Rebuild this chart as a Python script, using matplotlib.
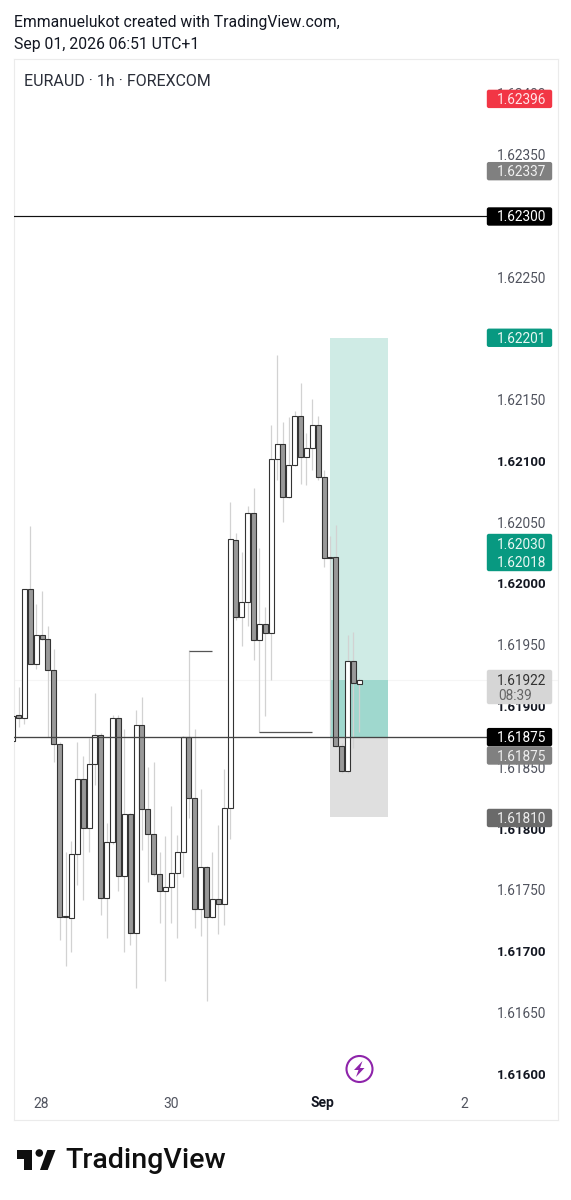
import matplotlib
matplotlib.use("Agg")
import matplotlib.pyplot as plt
import matplotlib.transforms as mtrans
from matplotlib.patches import Circle, FancyBboxPatch, Polygon, Rectangle

plt.rcParams['font.family'] = ['Roboto', 'DejaVu Sans']

# hourly candles
opens = [1.61872, 1.61893, 1.61891, 1.61996, 1.61935, 1.61958, 1.61955, 1.61930, 1.61869, 1.61728,
         1.61727, 1.61780, 1.61841, 1.61801, 1.61853, 1.61877, 1.61744, 1.61789, 1.61891, 1.61762,
         1.61812, 1.61715, 1.61885, 1.61816, 1.61796, 1.61763, 1.61749, 1.61753, 1.61764, 1.61781,
         1.61875, 1.61825, 1.61735, 1.61769, 1.61728, 1.61743, 1.61739, 1.61817, 1.62036, 1.61973,
         1.61985, 1.62058, 1.61954, 1.61967, 1.61960, 1.62102, 1.62114, 1.62071, 1.62097, 1.62137,
         1.62104, 1.62111, 1.62130, 1.62087, 1.62022, 1.62022, 1.61868, 1.61847, 1.61937, 1.61918]
highs = [1.61892, 1.61916, 1.61996, 1.62047, 1.61984, 1.61994, 1.61966, 1.61947, 1.61871, 1.61781,
         1.61790, 1.61871, 1.61860, 1.61874, 1.61911, 1.61878, 1.61805, 1.61893, 1.61893, 1.61882,
         1.61813, 1.61897, 1.61908, 1.61851, 1.61855, 1.61781, 1.61794, 1.61819, 1.61795, 1.61876,
         1.61946, 1.61882, 1.61833, 1.61770, 1.61781, 1.61803, 1.61849, 1.62067, 1.62042, 1.62026,
         1.62064, 1.62078, 1.62029, 1.61981, 1.62130, 1.62187, 1.62132, 1.62136, 1.62141, 1.62164,
         1.62123, 1.62151, 1.62137, 1.62093, 1.62039, 1.62048, 1.61870, 1.61958, 1.61961, 1.61923]
lows = [1.61872, 1.61883, 1.61886, 1.61935, 1.61931, 1.61954, 1.61875, 1.61855, 1.61709, 1.61688,
        1.61700, 1.61754, 1.61742, 1.61781, 1.61836, 1.61730, 1.61711, 1.61788, 1.61749, 1.61700,
        1.61705, 1.61670, 1.61783, 1.61757, 1.61762, 1.61723, 1.61676, 1.61723, 1.61711, 1.61761,
        1.61809, 1.61719, 1.61713, 1.61660, 1.61727, 1.61714, 1.61722, 1.61792, 1.61971, 1.61949,
        1.61966, 1.61938, 1.61879, 1.61892, 1.61922, 1.62085, 1.62051, 1.62070, 1.62096, 1.62082,
        1.62081, 1.62093, 1.62085, 1.62014, 1.61877, 1.61867, 1.61846, 1.61846, 1.61866, 1.61879]
closes = [1.61892, 1.61891, 1.61996, 1.61935, 1.61958, 1.61955, 1.61930, 1.61869, 1.61728, 1.61729,
          1.61780, 1.61841, 1.61801, 1.61853, 1.61877, 1.61744, 1.61789, 1.61891, 1.61762, 1.61812,
          1.61715, 1.61885, 1.61816, 1.61796, 1.61763, 1.61749, 1.61753, 1.61764, 1.61781, 1.61875,
          1.61825, 1.61735, 1.61769, 1.61728, 1.61743, 1.61739, 1.61817, 1.62037, 1.61973, 1.61985,
          1.62058, 1.61954, 1.61967, 1.61960, 1.62102, 1.62114, 1.62071, 1.62097, 1.62137, 1.62104,
          1.62111, 1.62130, 1.62087, 1.62021, 1.62021, 1.61868, 1.61847, 1.61937, 1.61919, 1.61922]

# price scale
tick_prices = [1.62400, 1.62350, 1.62300, 1.62250, 1.62200, 1.62150, 1.62100, 1.62050, 1.62000,
               1.61950, 1.61900, 1.61850, 1.61800, 1.61750, 1.61700, 1.61650, 1.61600]
bold_ticks = [1.62100, 1.62000, 1.61900, 1.61800, 1.61700, 1.61600]

# time scale
time_pos = [4.8, 27, 52.8, 76.9]
time_labels = ['28', '30', 'Sep', '2']

# position tool: target, entry, stop, live price
tp_price = 1.62201
entry_price = 1.61875
stop_price = 1.61810
last_price = 1.61922
hline_prices = [1.62300, 1.61875]

# small pivot levels
pivot_prices = [1.61945, 1.61879]
pivot_start = [30, 42]
pivot_end = [34, 51]

# price tags: centre price, text, colour
tag_prices = [1.62396, 1.62337, 1.62300, 1.62201, 1.61875, 1.61860, 1.61809]
tag_texts = ['1.62396', '1.62337', '1.62300', '1.62201', '1.61875', '1.61875', '1.61810']
tag_colors = ['#F23645', '#808080', '#000000', '#089981', '#000000', '#808080', '#6A6A6A']
tag_text_colors = ['#FFE3E6', '#F0F0F0', '#FFFFFF', '#E8F7F3', '#FFFFFF', '#EDEDED', '#EDEDED']

W, H = 571, 1200
L, R, T, B = 13.5, 558, 59, 1120

fig = plt.figure(figsize=(W / 100, H / 100), dpi=100, facecolor='white')
ax = fig.add_axes([L / W, 1 - B / H, (R - L) / W, (B - T) / H])
ax.set_xlim((L - 12.7) / 5.875, (R - 12.7) / 5.875)
ax.set_ylim(1.6156245, 1.6242857)
ax.set_xticks([])
ax.set_yticks([])
for s in ax.spines.values():
    s.set_color('#EBEBEB')
    s.set_linewidth(0.8)

ov = fig.add_axes([0, 0, 1, 1], facecolor='none')
ov.set_xlim(0, W)
ov.set_ylim(H, 0)
ov.axis('off')


def ypx(price):
    return H - ax.transData.transform((0, price))[1]


# position boxes
box_x, box_w = 54, 9.9
ax.add_patch(Rectangle((box_x, entry_price), box_w, tp_price - entry_price, fc='#CFEBE5', ec='none', zorder=1))
ax.add_patch(Rectangle((box_x, entry_price), box_w, last_price - entry_price, fc='#9FD8CE', ec='none', zorder=1.1))
ax.add_patch(Rectangle((box_x, stop_price), box_w, entry_price - stop_price, fc='#DFDFDF', ec='none', zorder=1))

ax.axhline(last_price, color='#F5F5F5', lw=0.8, zorder=0.5)

# candles
xs = list(range(len(opens)))
ax.vlines(xs, lows, highs, color='#D2D2D2', lw=0.9, zorder=2)
for i in xs:
    up = closes[i] >= opens[i]
    ax.bar(i, abs(closes[i] - opens[i]), bottom=min(opens[i], closes[i]), width=0.84,
           facecolor='white' if up else '#999999', edgecolor='#333333', linewidth=0.8, zorder=3)

for p, a, b in zip(pivot_prices, pivot_start, pivot_end):
    ax.hlines(p, a, b, color='#555555', lw=0.9, zorder=3)

ax_x_end = (487 - L) / (R - L)
xform = mtrans.blended_transform_factory(ax.transAxes, ax.transData)
ax.plot([0, ax_x_end], [hline_prices[0]] * 2, transform=xform, color='#111111', lw=0.85, zorder=4)
ax.plot([0, ax_x_end], [hline_prices[1]] * 2, transform=xform, color='#444444', lw=0.95, zorder=4)

# price axis labels
for p in tick_prices:
    bold = p in bold_ticks
    ov.text(546, ypx(p) + 1, f'{p:.5f}', ha='right', va='center', fontsize=9.5 if bold else 9.8,
            color='#131722' if bold else '#50535E', fontweight='bold' if bold else 'normal', zorder=2)


def tag(y0, y1, color):
    ov.add_patch(FancyBboxPatch((487.5, y0 + 1), 64, y1 - y0 - 2, boxstyle='round,pad=0,rounding_size=1.5',
                                fc=color, ec=color, lw=1, zorder=3))


for p, txt, col, tcol in zip(tag_prices, tag_texts, tag_colors, tag_text_colors):
    yc = ypx(p)
    tag(yc - 9.5, yc + 9.5, col)
    ov.text(546, yc + 1, txt, ha='right', va='center', fontsize=9.8, color=tcol, zorder=4)

# merged teal tag and the live price tag
tag(533.5, 571.5, '#089981')
ov.text(546, 545, '1.62030', ha='right', va='center', fontsize=9.8, color='#E8F7F3', zorder=4)
ov.text(546, 563, '1.62018', ha='right', va='center', fontsize=9.8, color='#E8F7F3', zorder=4)
tag(669.5, 704.5, '#D6D6D6')
ov.text(546, 681, '1.61922', ha='right', va='center', fontsize=9.8, color='#333333', zorder=4)
ov.text(498, 696, '08:39', ha='left', va='center', fontsize=9.8, color='#666666', zorder=4)

# time axis
time_xf = mtrans.blended_transform_factory(ax.transData, ov.transData)
for x, lab in zip(time_pos, time_labels):
    ov.text(x, 1103.5, lab, transform=time_xf, ha='center', va='center', fontsize=10,
            color='#131722' if lab == 'Sep' else '#50535E', fontweight='bold' if lab == 'Sep' else 'normal')

# header
ov.text(14, 22.5, 'Emmanuelukot created with TradingView.com,', fontsize=11.35, color='#131722', va='center')
ov.text(14, 44.5, 'Sep 01, 2026 06:51 UTC+1', fontsize=11.35, color='#131722', va='center')
ov.text(24, 81, 'EURAUD · 1h · FOREXCOM', fontsize=11.5, color='#2A2E39', va='center')

# lightning icon
ov.add_patch(Circle((359.5, 1069), 13, fc='white', ec='#8E24AA', lw=1.5, zorder=5))
ov.add_patch(Polygon([(362.5, 1061), (354, 1070), (358.5, 1070), (356, 1077), (364.5, 1068), (360, 1068)],
                     closed=True, fc='#8E24AA', ec='none', zorder=6))

# TradingView logo
ov.add_patch(Polygon([(16.7, 1150), (31.7, 1150), (31.7, 1170), (23.5, 1170), (23.5, 1159), (16.7, 1159)],
                     closed=True, fc='#0F0F0F', ec='none'))
ov.add_patch(Circle((39.3, 1153), 3.8, fc='#0F0F0F', ec='none'))
ov.add_patch(Polygon([(47.3, 1150), (55.5, 1150), (47.7, 1170), (40, 1170)], closed=True, fc='#0F0F0F', ec='none'))
ov.text(65, 1161, 'TradingView', fontsize=20.5, fontweight='medium', color='#0F0F0F', va='center')

fig.savefig('out.png', dpi=100, facecolor='white')
